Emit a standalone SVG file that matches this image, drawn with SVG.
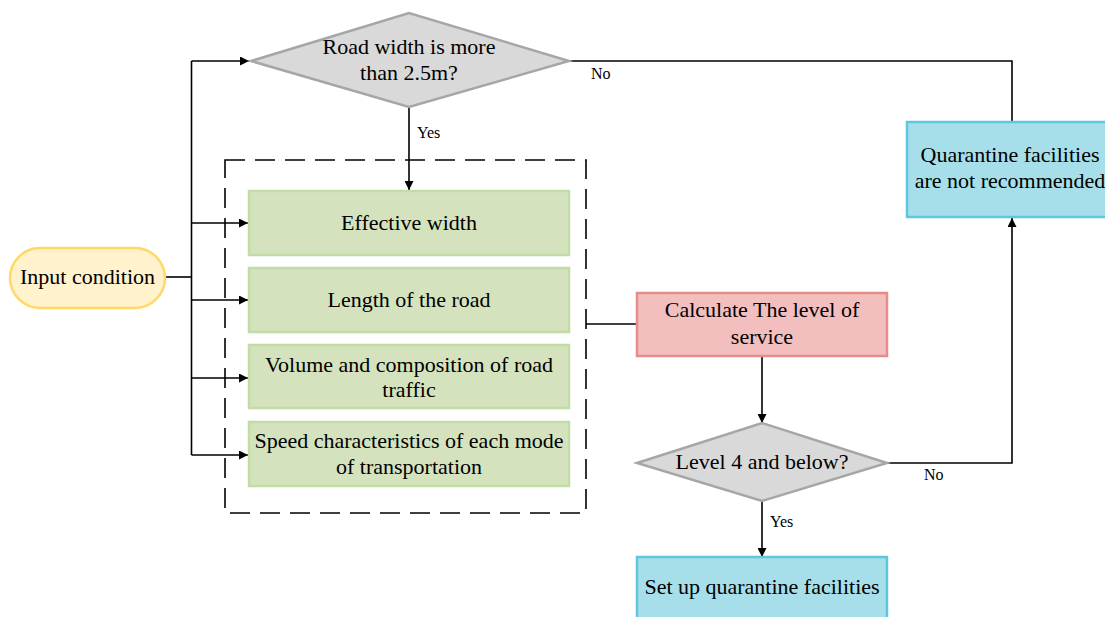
<svg xmlns="http://www.w3.org/2000/svg" width="1105" height="617" viewBox="0 0 1105 617">
<style>
.t{font-family:"Liberation Serif",serif;font-size:22px;fill:#000;text-anchor:middle}
.l{font-family:"Liberation Serif",serif;font-size:16px;fill:#000;text-anchor:start}
.dia{fill:#D9D9D9;stroke:#A6A6A6;stroke-width:2.5}
.grn{fill:#D4E3BE;stroke:#C2DCA6;stroke-width:2.5}
.cyan{fill:#A6DFE9;stroke:#5FC7DB;stroke-width:2.5}
.pink{fill:#F3BEBE;stroke:#E78B8B;stroke-width:2.5}
.pill{fill:#FFF2CC;stroke:#FFD966;stroke-width:2.5}
.c{fill:none;stroke:#000;stroke-width:1.6}
.dash{fill:none;stroke:#000;stroke-width:1.6;stroke-dasharray:20 10}
</style>
<defs>
<marker id="ah" viewBox="0 0 10 10" refX="10" refY="5" markerWidth="10" markerHeight="9" markerUnits="userSpaceOnUse" orient="auto">
<path d="M0,0 L10,5 L0,10 Z" fill="#000"/>
</marker>
</defs>
<rect width="1105" height="617" fill="#fff"/>

<g id="group-box">
<rect class="dash" x="225" y="160" width="361" height="353"/>
</g>

<g id="connectors">
<path class="c" d="M165,277 H191.5"/>
<path class="c" d="M191.5,61 V455"/>
<path class="c" d="M191.5,61 H249" marker-end="url(#ah)"/>
<path class="c" d="M191.5,223 H248" marker-end="url(#ah)"/>
<path class="c" d="M191.5,300 H248" marker-end="url(#ah)"/>
<path class="c" d="M191.5,378 H248" marker-end="url(#ah)"/>
<path class="c" d="M191.5,455 H248" marker-end="url(#ah)"/>
<path class="c" d="M409,107 V190" marker-end="url(#ah)"/>
<path class="c" d="M569,61 H1012 V122"/>
<path class="c" d="M586,324 H637"/>
<path class="c" d="M762,356 V423" marker-end="url(#ah)"/>
<path class="c" d="M887,463 H1012 V218" marker-end="url(#ah)"/>
<path class="c" d="M762,501 V557" marker-end="url(#ah)"/>
<text class="l" x="417" y="138">Yes</text>
<text class="l" x="591" y="79">No</text>
<text class="l" x="924" y="480">No</text>
<text class="l" x="770" y="527">Yes</text>
</g>

<g id="input">
<rect class="pill" x="10" y="248" width="155" height="60" rx="30"/>
<text class="t" x="87.5" y="284">Input condition</text>
</g>

<g id="road-width">
<polygon class="dia" points="251,61 409,13 569,61 409,107"/>
<text class="t" x="409" y="54">Road width is more</text>
<text class="t" x="409" y="80">than 2.5m?</text>
</g>

<g id="effective-width">
<rect class="grn" x="249" y="191" width="320" height="64"/>
<text class="t" x="409" y="230">Effective width</text>
</g>

<g id="length">
<rect class="grn" x="249" y="268" width="320" height="64"/>
<text class="t" x="409" y="307">Length of the road</text>
</g>

<g id="volume">
<rect class="grn" x="249" y="345" width="320" height="63"/>
<text class="t" x="409" y="372">Volume and composition of road</text>
<text class="t" x="409" y="397">traffic</text>
</g>

<g id="speed">
<rect class="grn" x="249" y="422" width="320" height="64"/>
<text class="t" x="409" y="448">Speed characteristics of each mode</text>
<text class="t" x="409" y="474">of transportation</text>
</g>

<g id="calculate">
<rect class="pink" x="637" y="293" width="250" height="63"/>
<text class="t" x="762" y="317">Calculate The level of</text>
<text class="t" x="762" y="344">service</text>
</g>

<g id="level4">
<polygon class="dia" points="637,463 762,423 887,463 762,501"/>
<text class="t" x="762" y="469">Level 4 and below?</text>
</g>

<g id="not-recommended">
<rect class="cyan" x="907" y="122" width="210" height="95"/>
<text class="t" x="1010" y="162">Quarantine facilities</text>
<text class="t" x="1010" y="188">are not recommended</text>
</g>

<g id="set-up">
<rect class="cyan" x="637" y="557" width="250" height="70"/>
<text class="t" x="762" y="594">Set up quarantine facilities</text>
</g>
</svg>
